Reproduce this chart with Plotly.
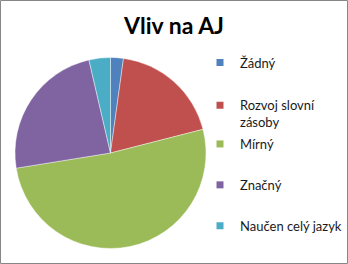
import plotly.graph_objects as go

categories = ["Žádný", "Rozvoj slovní<br>zásoby", "Mírný", "Značný", "Naučen celý jazyk"]
values = [3, 26, 71, 33, 5]
colors = ["#4F81BD", "#C0504D", "#9BBB59", "#8064A2", "#4BACC6"]
title_text = "Vliv na AJ"

W, H = 348, 264
fig = go.Figure()
fig.add_trace(go.Pie(
    labels=categories, values=values, sort=False, direction="clockwise", rotation=0,
    marker=dict(colors=colors, line=dict(color="rgba(255,255,255,0.6)", width=0.7)),
    textinfo="none", hoverinfo="label+percent", showlegend=False,
    domain=dict(x=[15/W, 206/W], y=[1-248.5/H, 1-57.5/H]),
))
for i, (lab, col) in enumerate(zip(categories, colors)):
    fig.add_trace(go.Scatter(
        x=[None], y=[None], mode="markers", name=lab, legendgroup=f"g{i}",
        legend="legend" if i < 2 else "legend2",
        marker=dict(symbol="square", size=7, color=col, line=dict(width=0)),
        showlegend=True,
    ))

leg_common = dict(xanchor="left", yanchor="top", valign="top",
                  font=dict(family="Lato", size=13, color="#1a1a1a"),
                  bgcolor="rgba(0,0,0,0)")
fig.update_layout(
    width=W, height=H, margin=dict(l=0, r=0, t=0, b=0),
    paper_bgcolor="white", plot_bgcolor="white",
    xaxis=dict(visible=False), yaxis=dict(visible=False),
    title=dict(text=f"<b>{title_text}</b>", x=0.5, xanchor="center", y=1-25.5/H, yanchor="middle",
               font=dict(family="Lato", size=23, color="black")),
    legend=dict(x=200/W, y=1-47.5/H, tracegroupgap=23, **leg_common),
    legend2=dict(x=200/W, y=1-129/H, tracegroupgap=21, **leg_common),
    shapes=[dict(type="rect", xref="paper", yref="paper", x0=0.5/W, x1=1-0.5/W, y0=0.5/H, y1=1-0.5/H,
                 line=dict(color="#868686", width=1))],
)
fig.write_html("out.html")
